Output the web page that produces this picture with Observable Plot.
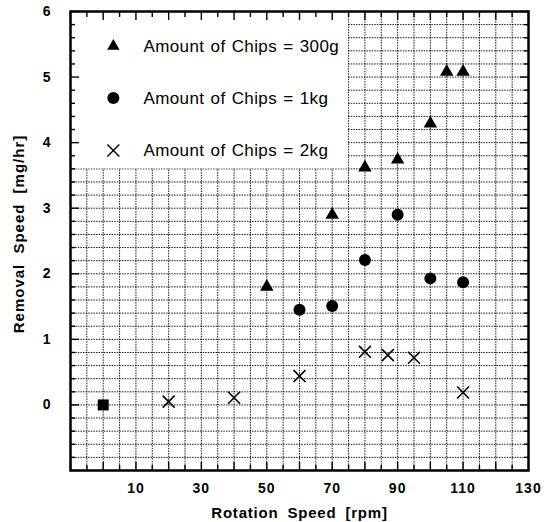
<!DOCTYPE html>
<html>
<head>
<meta charset="utf-8">
<script src="https://cdn.jsdelivr.net/npm/d3@7"></script>
<script src="https://cdn.jsdelivr.net/npm/@observablehq/plot@0.6"></script>
<style>
  html, body { margin: 0; padding: 0; background: #fff; }
  #chart svg { display: block; font-family: "Liberation Sans", Arial, Helvetica, sans-serif; }
</style>
</head>
<body>
<div id="chart"></div>
<script>
// ---- data ----
const x300g = [50, 70, 80, 90, 100, 105, 110];
const y300g = [1.80, 2.90, 3.62, 3.74, 4.29, 5.08, 5.08];

const x1kg = [60, 70, 80, 90, 100, 110];
const y1kg = [1.45, 1.51, 2.21, 2.90, 1.93, 1.87];

const x2kg = [20, 40, 60, 80, 87, 95, 110];
const y2kg = [0.05, 0.11, 0.44, 0.81, 0.76, 0.72, 0.19];

const xOrigin = [0];
const yOrigin = [0];

// ---- axes / labels ----
const xTickLabels = [10, 30, 50, 70, 90, 110, 130];
const yTickLabels = [0, 1, 2, 3, 4, 5, 6];
const xDomain = [-10, 130];
const yDomain = [-1, 6];
const xTitle = "Rotation Speed [rpm]";
const yTitle = "Removal Speed [mg/hr]";

const legendLabels = ["Amount of Chips = 300g", "Amount of Chips = 1kg", "Amount of Chips = 2kg"];
const legendBox = [{x1: -10, x2: 75, y1: 3.6, y2: 6}];
const legendSymX = 3.1, legendTextX = 12.3;
const legendY = [5.47, 4.68, 3.88];

// grid / tick positions
const gridX = d3.range(-5, 130, 5);
const gridY = d3.range(-0.8, 5.9, 0.2);
const xMajor = d3.range(-10, 131, 10);
const xMinor = d3.range(-5, 130, 10);
const yMajor = d3.range(-1, 7, 1);
const yMinor = gridY.filter(v => Math.abs(v - Math.round(v)) > 0.05);

const toRows = (xs, ys) => xs.map((x, i) => ({x, y: ys[i]}));
const s300 = toRows(x300g, y300g);
const s1kg = toRows(x1kg, y1kg);
const s2kg = toRows(x2kg, y2kg);
const sOrig = toRows(xOrigin, yOrigin);
const legendRows = legendLabels.map((label, i) => ({label, x: legendSymX, tx: legendTextX, y: legendY[i]}));

const gridStyle = {stroke: "#000", strokeDasharray: "1.5,1.1", strokeWidth: 1, strokeOpacity: 0.9};
const tickStyle = {tickFormat: () => "", label: null, strokeWidth: 1.4};

const chart = Plot.plot({
  width: 550,
  height: 522,
  marginLeft: 70,
  marginRight: 22,
  marginTop: 11,
  marginBottom: 52,
  x: {domain: xDomain},
  y: {domain: yDomain},
  style: {fontFamily: "Liberation Sans, Arial, Helvetica, sans-serif", color: "#000", background: "#fff"},
  marks: [
    Plot.ruleX(gridX, {x: d => d, ...gridStyle}),
    Plot.ruleY(gridY, {y: d => d, ...gridStyle}),
    Plot.rect(legendBox, {x1: "x1", x2: "x2", y1: "y1", y2: "y2", fill: "white"}),

    // data
    Plot.dot(s300, {x: "x", y: "y", symbol: "triangle", r: 5, fill: "black"}),
    Plot.dot(s1kg, {x: "x", y: "y", symbol: "circle", r: 6, fill: "black"}),
    Plot.dot(s2kg, {x: "x", y: "y", symbol: "times", r: 5.5, stroke: "black", strokeWidth: 1.6}),
    Plot.dot(sOrig, {x: "x", y: "y", symbol: "square", r: 6.2, fill: "black"}),

    // inward ticks on all four sides
    Plot.axisX(xMajor, {anchor: "bottom", tickSize: 8, dy: -8, ...tickStyle}),
    Plot.axisX(xMinor, {anchor: "bottom", tickSize: 5, dy: -5, ...tickStyle}),
    Plot.axisX(xMajor, {anchor: "top", tickSize: 8, dy: 8, ...tickStyle}),
    Plot.axisX(xMinor, {anchor: "top", tickSize: 5, dy: 5, ...tickStyle}),
    Plot.axisY(yMajor, {anchor: "left", tickSize: 9, dx: 9, ...tickStyle}),
    Plot.axisY(yMinor, {anchor: "left", tickSize: 5, dx: 5, ...tickStyle}),
    Plot.axisY(yMajor, {anchor: "right", tickSize: 9, dx: -9, ...tickStyle}),
    Plot.axisY(yMinor, {anchor: "right", tickSize: 5, dx: -5, ...tickStyle}),

    // tick labels
    Plot.axisX(xTickLabels, {anchor: "bottom", tickSize: 0, tickPadding: 13, label: null, fontSize: 14, fontWeight: "bold", tickFormat: "d"}),
    Plot.axisY(yTickLabels, {anchor: "left", tickSize: 0, tickPadding: 19, label: null, fontSize: 14, fontWeight: "bold", tickFormat: "d"}),

    Plot.frame({stroke: "black", strokeWidth: 2.5}),

    // axis titles
    Plot.text([xTitle], {frameAnchor: "bottom", dy: 43, textAnchor: "middle", lineAnchor: "middle", fontSize: 15, fontWeight: "bold"}),
    Plot.text([yTitle], {frameAnchor: "left", dx: -51, dy: -7, rotate: -90, textAnchor: "middle", lineAnchor: "middle", fontSize: 15, fontWeight: "bold"}),

    // legend
    Plot.dot([legendRows[0]], {x: "x", y: "y", symbol: "triangle", r: 4.6, fill: "black"}),
    Plot.dot([legendRows[1]], {x: "x", y: "y", symbol: "circle", r: 6, fill: "black"}),
    Plot.dot([legendRows[2]], {x: "x", y: "y", symbol: "times", r: 5.5, stroke: "black", strokeWidth: 1.4}),
    Plot.text(legendRows, {x: "tx", y: "y", text: "label", textAnchor: "start", lineAnchor: "middle", fontSize: 17})
  ]
});

// typographic spacing to match the reference's wide lettering
d3.select(chart).selectAll("text").each(function () {
  const t = this.textContent;
  if (legendLabels.includes(t)) {
    this.style.letterSpacing = "0.4px";
    this.style.wordSpacing = "1px";
  } else if (t === xTitle) {
    this.style.letterSpacing = "0.8px";
    this.style.wordSpacing = "4px";
  } else if (t === yTitle) {
    this.style.letterSpacing = "1px";
    this.style.wordSpacing = "5px";
  } else {
    this.style.letterSpacing = "1px";
  }
});
document.getElementById("chart").append(chart);
</script>
</body>
</html>
